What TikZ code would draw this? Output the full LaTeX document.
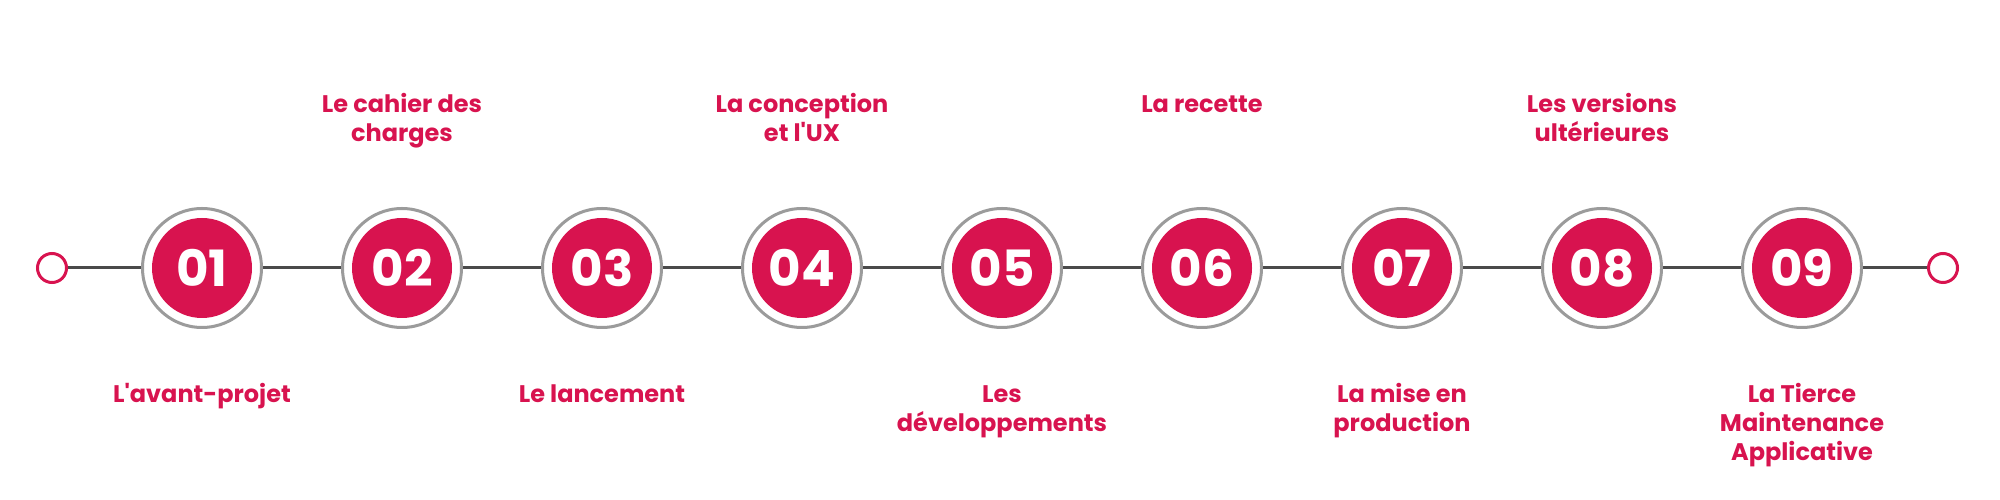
\documentclass[tikz,border=0pt]{standalone}
\usepackage{fontspec}
\setmainfont{Poppins}
\usepackage{xcolor}
\usepackage{tikz}
\usetikzlibrary{positioning}

\definecolor{crimson}{HTML}{D8134F}
\definecolor{ringgray}{HTML}{9B9B9B}
\definecolor{linegray}{HTML}{4A4A4A}

\begin{document}
\begin{tikzpicture}[x=1pt,y=1pt,on grid,node distance=200pt,
  main node/.style={circle,draw=ringgray,line width=3pt,fill=white,minimum size=119pt,inner sep=0pt,
    text=white,font=\fontsize{50}{50}\selectfont\bfseries,
    path picture={\fill[crimson] (path picture bounding box.center) circle (50pt);}}]

    \tikzstyle{end node} = [circle,draw=crimson,line width=3pt,fill=white,minimum size=29pt,inner sep=0pt]
    \tikzstyle{phase} = [text=crimson,align=center,inner sep=0pt,anchor=base,font=\fontsize{24}{29}\selectfont\bfseries]
    \tikzstyle{connector} = [draw=linegray,line width=3pt]

  \useasboundingbox (0,0) rectangle (2000,500);

  \node[main node] (1) at (202,232) {01};
  \node[main node] (2) [right=of 1] {02};
  \node[main node] (3) [right=of 2] {03};
  \node[main node] (4) [right=of 3] {04};
  \node[main node] (5) [right=of 4] {05};
  \node[main node] (6) [right=of 5] {06};
  \node[main node] (7) [right=of 6] {07};
  \node[main node] (8) [right=of 7] {08};
  \node[main node] (9) [right=of 8] {09};

  \node[end node] (start) [left=150pt of 1] {};
  \node[end node] (end) [right=141pt of 9] {};

  % phases above the line (distance to the last baseline)
  \node (t2) [above=126pt of 2, phase] {Le cahier des\\charges};
  \node (t4) [above=126pt of 4, phase] {La conception\\et l\textquotesingle UX};
  \node (t6) [above=155pt of 6, phase] {La recette};
  \node (t8) [above=126pt of 8, phase] {Les versions\\ultérieures};

  % phases below the line
  \node (b1) [below=135pt of 1, phase] {L\textquotesingle avant-projet};
  \node (b3) [below=135pt of 3, phase] {Le lancement};
  \node (b5) [below=164pt of 5, phase] {Les\\développements};
  \node (b7) [below=164pt of 7, phase] {La mise en\\production};
  \node (b9) [below=193pt of 9, phase] {La Tierce\\Maintenance\\Applicative};

  \path[connector]
    (start) edge (1)
    (1) edge (2)
    (2) edge (3)
    (3) edge (4)
    (4) edge (5)
    (5) edge (6)
    (6) edge (7)
    (7) edge (8)
    (8) edge (9)
    (9) edge (end);

\end{tikzpicture}
\end{document}
